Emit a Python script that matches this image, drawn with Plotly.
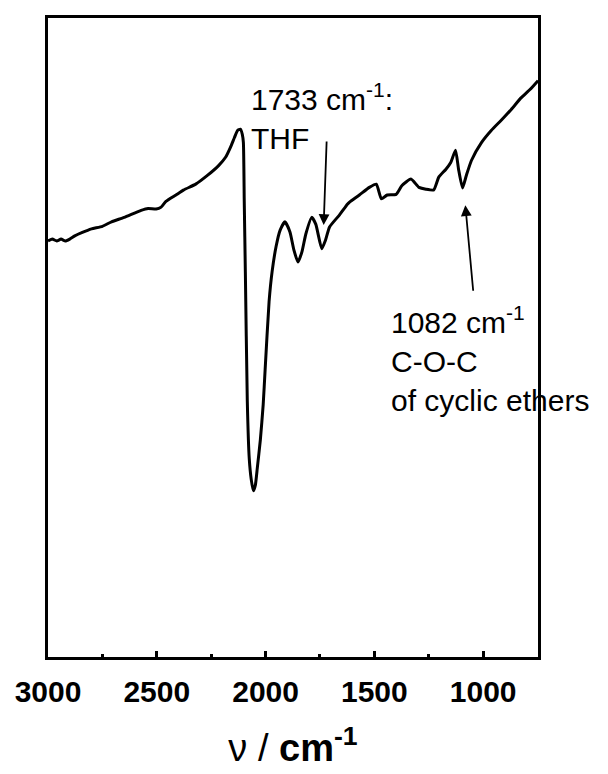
import plotly.graph_objects as go

wavenumber = [3000, 2980, 2960, 2940, 2920, 2900, 2877, 2845, 2800, 2750, 2708, 2650,
              2572, 2540, 2503, 2480, 2458, 2412, 2376, 2321, 2266, 2216, 2184, 2161,
              2143, 2129, 2116, 2107, 2102, 2098, 2093, 2084, 2075, 2066, 2056, 2047,
              2038, 2024, 2011, 2002, 1984, 1970, 1952, 1933, 1911, 1888, 1870, 1851,
              1833, 1815, 1788, 1769, 1742, 1724, 1706, 1660, 1623, 1614, 1569, 1523,
              1491, 1468, 1441, 1400, 1373, 1332, 1295, 1263, 1227, 1204, 1172, 1149,
              1127, 1113, 1095, 1077, 1054, 1008, 963, 917, 871, 826, 785, 748]
signal = [65.1, 65.4, 65.1, 65.4, 65.1, 65.4, 65.9, 66.4, 67.0, 67.4, 68.1, 68.8,
          69.9, 70.2, 70.1, 70.4, 71.3, 72.3, 73.1, 74.0, 75.4, 76.9, 78.2, 79.8,
          81.3, 82.4, 82.6, 81.8, 80.5, 71.2, 60.3, 40.0, 31.0, 27.8, 26.0, 26.9,
          29.6, 34.0, 39.5, 45.0, 55.6, 60.3, 64.2, 66.8, 68.1, 66.5, 63.7, 61.8,
          63.4, 66.2, 68.8, 67.7, 63.9, 65.3, 67.3, 69.2, 70.9, 71.2, 72.3, 73.5,
          74.0, 71.7, 72.3, 72.4, 73.8, 74.8, 73.5, 73.2, 73.1, 75.1, 76.3, 77.4,
          79.3, 76.3, 73.4, 75.4, 77.7, 80.5, 82.4, 84.0, 85.7, 87.5, 88.8, 90.2]

tick_vals = [3000, 2500, 2000, 1500, 1000]
tick_text = ["3000", "2500", "2000", "1500", "1000"]

label_thf = "1733 cm<sup>-1</sup>:<br>THF"
label_coc = "1082 cm<sup>-1</sup><br>C-O-C<br>of cyclic ethers"
peak_thf = (1733, 67.6)
peak_coc = (1082, 70.7)

fig = go.Figure()
fig.add_trace(go.Scatter(x=wavenumber, y=signal, mode="lines",
                         line=dict(color="black", width=3, shape="spline", smoothing=0.5),
                         hoverinfo="skip", showlegend=False))

font_main = "Liberation Sans, Arial, sans-serif"

# page body adds an 8px margin, so the figure is 8px smaller than the window
fig.update_layout(
    width=600, height=766,
    margin=dict(l=38, r=70, t=7, b=117),
    plot_bgcolor="white", paper_bgcolor="white",
    font=dict(family=font_main, color="black"),
    xaxis=dict(range=[3000, 748], showline=True, linecolor="black", linewidth=3,
               mirror=True, showgrid=False, zeroline=False,
               ticks="inside", ticklen=6, tickwidth=2.5, tickcolor="black",
               tickvals=tick_vals, ticktext=tick_text,
               minor=dict(dtick=250, tick0=0, ticks="inside", ticklen=3, tickwidth=2.5, tickcolor="black"),
               tickfont=dict(size=30, family=font_main, weight="bold", color="black"),
               ticklabelstandoff=6,
               title=dict(text="ν / <b>cm<sup>-1</sup></b>", font=dict(size=38, family=font_main),
                          standoff=28)),
    yaxis=dict(range=[0, 100], showline=True, linecolor="black", linewidth=3,
               mirror=True, showgrid=False, zeroline=False, ticks="",
               showticklabels=False),
    annotations=[
        dict(text=label_thf, xref="paper", yref="paper", x=0.41, y=0.91,
             xanchor="left", yanchor="top", align="left", showarrow=False,
             font=dict(size=30, family=font_main, color="black")),
        dict(text=label_coc, xref="paper", yref="paper", x=0.695, y=0.56,
             xanchor="left", yanchor="top", align="left", showarrow=False,
             font=dict(size=30, family=font_main, color="black")),
        dict(text="", x=peak_thf[0], y=peak_thf[1], xref="x", yref="y",
             ax=3, ay=-85, showarrow=True, arrowhead=2, arrowsize=1.2,
             arrowwidth=1.8, arrowcolor="black"),
        dict(text="", x=peak_coc[0], y=peak_coc[1], xref="x", yref="y",
             ax=8, ay=87, showarrow=True, arrowhead=2, arrowsize=1.2,
             arrowwidth=1.8, arrowcolor="black"),
    ],
)

fig.write_html("out.html")
